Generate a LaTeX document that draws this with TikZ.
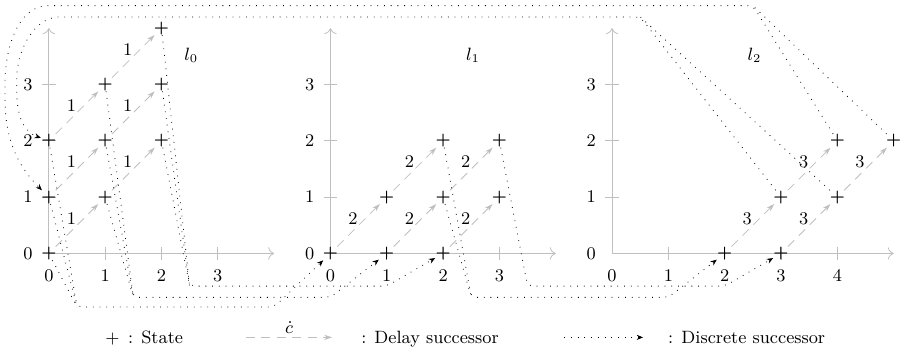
\documentclass[tikz,border=0pt]{standalone}
\usetikzlibrary{arrows.meta}
\begin{document}
\begin{tikzpicture}[line width=0.4pt, font=\small,
  st/.style={inner sep=0pt, font=\footnotesize\boldmath},
  tk/.style={inner sep=0pt},
  ax/.style={draw=black!25, -{To[length=3pt]}},
  tck/.style={draw=black!25},
  dly/.style={draw=black!25, dash pattern=on 4.5pt off 3.3pt, -{Stealth[length=4pt,width=2.6pt]}},
  dscb/.style={dash pattern=on 0.4pt off 3pt, rounded corners=3pt},
  dsc/.style={dscb, -{Stealth[length=3.2pt,width=2.6pt]}},
  rate/.style={midway, above left, inner sep=0.3pt},
  lgtxt/.style={anchor=base west, inner sep=0pt}]
  \useasboundingbox (-0.867,-1.768) rectangle (15.13,4.5);
  % l0 : x 0..4, y 0..4
  \draw[ax] (0,0) -- (4,0); \draw[ax] (0,0) -- (0,4);
  \draw[tck] (1,-0.12) -- (1,0.12) (2,-0.12) -- (2,0.12) (3,-0.12) -- (3,0.12);
  \draw[tck] (-0.12,1) -- (0.12,1) (-0.12,2) -- (0.12,2) (-0.12,3) -- (0.12,3);
  \node[tk] (xa0) at (0,-0.4) {$0$}; \node[tk] (xa1) at (1,-0.4) {$1$};
  \node[tk] (xa2) at (2,-0.4) {$2$}; \node[tk] (xa3) at (3,-0.4) {$3$};
  \node[tk] (ya0) at (-0.37,0) {$0$}; \node[tk] (ya1) at (-0.37,1) {$1$};
  \node[tk] (ya2) at (-0.37,2) {$2$}; \node[tk] (ya3) at (-0.37,3) {$3$};
  \node (la) at (2.53,3.52) {$l_0$};
  % l1 : x 5..9
  \draw[ax] (5,0) -- (9,0); \draw[ax] (5,0) -- (5,4);
  \draw[tck] (6,-0.12) -- (6,0.12) (7,-0.12) -- (7,0.12) (8,-0.12) -- (8,0.12);
  \draw[tck] (4.88,1) -- (5.12,1) (4.88,2) -- (5.12,2) (4.88,3) -- (5.12,3);
  \node[tk] (xb0) at (5,-0.4) {$0$}; \node[tk] (xb1) at (6,-0.4) {$1$};
  \node[tk] (xb2) at (7,-0.4) {$2$}; \node[tk] (xb3) at (8,-0.4) {$3$};
  \node[tk] (yb0) at (4.63,0) {$0$}; \node[tk] (yb1) at (4.63,1) {$1$};
  \node[tk] (yb2) at (4.63,2) {$2$}; \node[tk] (yb3) at (4.63,3) {$3$};
  \node (lb) at (7.53,3.52) {$l_1$};
  % l2 : x 10..15
  \draw[ax] (10,0) -- (15,0); \draw[ax] (10,0) -- (10,4);
  \draw[tck] (11,-0.12) -- (11,0.12) (12,-0.12) -- (12,0.12) (13,-0.12) -- (13,0.12) (14,-0.12) -- (14,0.12);
  \draw[tck] (9.88,1) -- (10.12,1) (9.88,2) -- (10.12,2) (9.88,3) -- (10.12,3);
  \node[tk] (xc0) at (10,-0.4) {$0$}; \node[tk] (xc1) at (11,-0.4) {$1$};
  \node[tk] (xc2) at (12,-0.4) {$2$}; \node[tk] (xc3) at (13,-0.4) {$3$};
  \node[tk] (xc4) at (14,-0.4) {$4$};
  \node[tk] (yc0) at (9.63,0) {$0$}; \node[tk] (yc1) at (9.63,1) {$1$};
  \node[tk] (yc2) at (9.63,2) {$2$}; \node[tk] (yc3) at (9.63,3) {$3$};
  \node (lc) at (12.53,3.52) {$l_2$};
  % states
  \node[st] (a00) at (0,0) {$+$}; \node[st] (a01) at (0,1) {$+$}; \node[st] (a02) at (0,2) {$+$};
  \node[st] (a11) at (1,1) {$+$}; \node[st] (a12) at (1,2) {$+$}; \node[st] (a13) at (1,3) {$+$};
  \node[st] (a22) at (2,2) {$+$}; \node[st] (a23) at (2,3) {$+$}; \node[st] (a24) at (2,4) {$+$};
  \node[st] (b00) at (5,0) {$+$}; \node[st] (b10) at (6,0) {$+$}; \node[st] (b20) at (7,0) {$+$};
  \node[st] (b11) at (6,1) {$+$}; \node[st] (b21) at (7,1) {$+$}; \node[st] (b31) at (8,1) {$+$};
  \node[st] (b22) at (7,2) {$+$}; \node[st] (b32) at (8,2) {$+$};
  \node[st] (c20) at (12,0) {$+$}; \node[st] (c30) at (13,0) {$+$};
  \node[st] (c31) at (13,1) {$+$}; \node[st] (c41) at (14,1) {$+$};
  \node[st] (c42) at (14,2) {$+$}; \node[st] (c52) at (15,2) {$+$};
  % delay successors
  \draw[dly] (a00) -- node[rate] {$1$} (a11); \draw[dly] (a01) -- node[rate] {$1$} (a12);
  \draw[dly] (a02) -- node[rate] {$1$} (a13); \draw[dly] (a11) -- node[rate] {$1$} (a22);
  \draw[dly] (a12) -- node[rate] {$1$} (a23); \draw[dly] (a13) -- node[rate] {$1$} (a24);
  \draw[dly] (b00) -- node[rate] {$2$} (b11); \draw[dly] (b11) -- node[rate] {$2$} (b22);
  \draw[dly] (b10) -- node[rate] {$2$} (b21); \draw[dly] (b21) -- node[rate] {$2$} (b32);
  \draw[dly] (b20) -- node[rate] {$2$} (b31);
  \draw[dly] (c20) -- node[rate] {$3$} (c31); \draw[dly] (c30) -- node[rate] {$3$} (c41);
  \draw[dly] (c31) -- node[rate] {$3$} (c42); \draw[dly] (c41) -- node[rate] {$3$} (c52);
  % discrete successors (bends)
  \coordinate (ka) at (0.5,-0.95); \coordinate (ra) at (4,-0.95);
  \coordinate (kb) at (1.5,-0.78); \coordinate (rb) at (5,-0.78);
  \coordinate (kc) at (2.5,-0.58); \coordinate (rc) at (6,-0.58);
  \coordinate (kd) at (7.5,-0.78); \coordinate (rd) at (11,-0.78);
  \coordinate (ke) at (8.5,-0.58); \coordinate (re) at (12,-0.58);
  \coordinate (kf) at (10.5,4.2); \coordinate (rf) at (0.3,4.2); \coordinate (wf) at (-0.57,3);
  \coordinate (kg) at (12.5,4.4); \coordinate (rg) at (0.1,4.4); \coordinate (wg) at (-0.78,2.9);
  \draw[dsc] (a00) -- (ka) -- (ra) -- (b00); \draw[dscb] (a01) -- (ka); \draw[dscb] (a02) -- (ka);
  \draw[dsc] (a11) -- (kb) -- (rb) -- (b10); \draw[dscb] (a12) -- (kb); \draw[dscb] (a13) -- (kb);
  \draw[dsc] (a22) -- (kc) -- (rc) -- (b20); \draw[dscb] (a23) -- (kc); \draw[dscb] (a24) -- (kc);
  \draw[dsc] (b21) -- (kd) -- (rd) -- (c20); \draw[dscb] (b22) -- (kd);
  \draw[dsc] (b32) -- (ke) -- (re) -- (c30);
  \draw[dsc] (c31) -- (kf) -- (rf) to[out=180,in=90] (wf) to[out=-90,in=160] (a02); \draw[dscb] (c41) -- (kf);
  \draw[dsc] (c42) -- (kg) -- (rg) to[out=180,in=90] (wg) to[out=-90,in=135] (a01); \draw[dscb] (c52) -- (kg);
  % legend
  \node[inner sep=0pt, anchor=base] (lgst) at (1.13,-1.6) {$+$};
  \node[lgtxt] (lgsttx) at (1.4,-1.6) {: State};
  \coordinate (lgd1) at (3.5,-1.49); \coordinate (lgd2) at (5.03,-1.49);
  \draw[dly] (lgd1) -- node[midway, above, inner sep=2pt] (lgc) {$\dot c$} (lgd2);
  \node[lgtxt] (lgdtx) at (5.54,-1.6) {: Delay successor};
  \coordinate (lgk1) at (9.15,-1.49); \coordinate (lgk2) at (10.55,-1.49);
  \draw[dsc] (lgk1) -- (lgk2);
  \node[lgtxt] (lgktx) at (10.99,-1.6) {: Discrete successor};
\end{tikzpicture}
\end{document}
